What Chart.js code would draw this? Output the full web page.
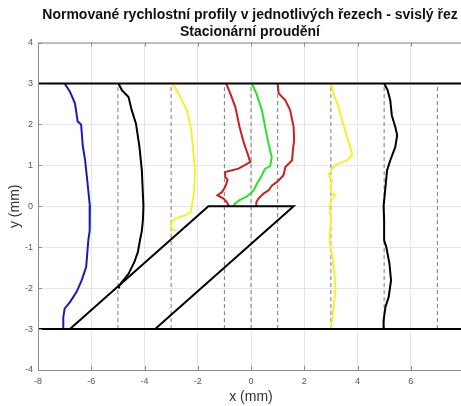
<!DOCTYPE html>
<html>
<head>
<meta charset="utf-8">
<script src="https://cdn.jsdelivr.net/npm/chart.js@4"></script>
<style>
  html, body { margin: 0; padding: 0; background: #fff; overflow: hidden; }
  #wrap { width: 500px; height: 406px; }
</style>
</head>
<body>
<div id="wrap"><canvas id="myChart" width="500" height="406"></canvas></div>
<script>
// axes
const xTicks = [-8, -6, -4, -2, 0, 2, 4, 6, 8];
const yTicks = [-4, -3, -2, -1, 0, 1, 2, 3, 4];

// channel walls and the step
const wallY = [3, -3];
const wallX = [-8, 8];
const stepX = [-6.8, -1.6, 1.6, -3.6];
const stepY = [-3, 0, 0, -3];

// measuring sections (dashed)
const sections = [-5, -3, -1, 0, 1, 3, 5, 7];

// normalised velocity profiles
const blueX = [-7.0, -6.8, -6.61, -6.51, -6.38, -6.32, -6.23, -6.15, -6.05, -6.05, -6.07, -6.11, -6.19, -6.36, -6.55, -6.8, -7.0, -7.05, -7.05];
const blueY = [3, 2.8, 2.51, 2.07, 2.0, 1.49, 1.12, 0.63, 0, -0.34, -0.6, -0.83, -1.48, -1.81, -2.09, -2.34, -2.5, -2.71, -3];

const blackAX = [-4.98, -4.85, -4.6, -4.48, -4.32, -4.19, -4.1, -4.04, -4.06, -4.1, -4.17, -4.25, -4.38, -4.6, -4.85, -4.98, -4.93];
const blackAY = [3, 2.84, 2.67, 2.35, 2.02, 1.45, 0.88, 0, -0.34, -0.6, -0.83, -1.12, -1.36, -1.65, -1.85, -1.97, -2.0];

const yellowAX = [-2.94, -2.73, -2.41, -2.26, -2.18, -2.1, -2.14, -2.26, -2.47, -2.85, -3.01, -2.97, -2.79];
const yellowAY = [3, 2.76, 2.35, 1.94, 1.45, 0.88, 0.31, -0.14, -0.22, -0.3, -0.42, -0.55, -0.6];

const redAX = [-0.93, -0.78, -0.59, -0.43, -0.26, -0.13, -0.03, -0.47, -0.97, -0.97, -0.88, -0.97, -1.09, -1.26, -1.03, -0.9, -0.84];
const redAY = [3, 2.76, 2.43, 1.94, 1.53, 1.29, 1.08, 0.92, 0.84, 0.72, 0.65, 0.47, 0.35, 0.27, 0.19, 0.1, 0];

const greenX = [0.03, 0.2, 0.41, 0.53, 0.66, 0.78, 0.72, 0.53, 0.41, 0.22, 0.1, -0.15, -0.43, -0.63, -0.59];
const greenY = [3, 2.76, 2.35, 1.94, 1.53, 1.2, 0.98, 0.92, 0.76, 0.55, 0.39, 0.24, 0.15, 0.05, 0];

const redBX = [1.0, 1.04, 1.29, 1.47, 1.6, 1.62, 1.58, 1.54, 1.29, 1.22, 0.97, 0.79, 0.66, 0.47, 0.28, 0.2, 0.2];
const redBY = [3, 2.76, 2.59, 2.35, 1.94, 1.61, 1.41, 1.12, 0.96, 0.76, 0.59, 0.51, 0.39, 0.31, 0.19, 0.1, 0];

const yellowBX = [3.0, 3.1, 3.29, 3.42, 3.61, 3.76, 3.8, 3.61, 3.23, 3.04, 2.91, 3.04, 2.98, 3.04, 3.17, 3.04, 2.95, 3.0, 2.95, 3.04, 3.14, 3.17, 3.1, 3.0];
const yellowBY = [3, 2.76, 2.43, 2.1, 1.69, 1.37, 1.25, 1.12, 1.03, 0.92, 0.76, 0.64, 0.47, 0.31, 0.27, 0.19, 0, -0.34, -0.83, -1.16, -1.65, -2.05, -2.46, -3];

const blackBX = [5.0, 5.13, 5.23, 5.29, 5.42, 5.49, 5.42, 5.23, 5.11, 5.05, 4.98, 5.0, 5.0, 5.08, 5.2, 5.26, 5.17, 5.05, 4.98, 4.98];
const blackBY = [3, 2.84, 2.59, 2.22, 1.94, 1.74, 1.45, 1.12, 0.88, 0.47, 0, -0.34, -0.83, -0.99, -1.4, -1.81, -2.22, -2.46, -2.79, -3];

function pts(xs, ys) {
    return xs.map((x, i) => ({ x: x, y: ys[i] }));
}

function line(xs, ys, color, width, order, dash) {
    return {
        data: pts(xs, ys),
        showLine: true,
        borderColor: color,
        borderWidth: width,
        borderDash: dash || [],
        pointRadius: 0,
        fill: false,
        tension: 0,
        order: order
    };
}

const datasets = [];
sections.forEach(s => {
    datasets.push(line([s, s], [wallY[1], wallY[0]], '#7a7a7a', 1, 30, [4, 3]));
});
datasets.push(line(blueX, blueY, '#1a1ab8', 2, 10));
datasets.push(line(blackAX, blackAY, '#000000', 2, 10));
datasets.push(line(yellowAX, yellowAY, '#f2f230', 2, 10));
datasets.push(line(redAX, redAY, '#cc1f1f', 2, 10));
datasets.push(line(greenX, greenY, '#2ee02e', 2, 10));
datasets.push(line(redBX, redBY, '#cc1f1f', 2, 10));
datasets.push(line(yellowBX, yellowBY, '#f2f230', 2, 10));
datasets.push(line(blackBX, blackBY, '#000000', 2, 10));
wallY.forEach(w => {
    datasets.push(line(wallX, [w, w], '#000000', 2, 1));
});
datasets.push(line(stepX, stepY, '#000000', 2, 1));

// matlab-like box with inward tick marks
const axesBox = {
    id: 'axesBox',
    afterDatasetsDraw(chart) {
        const { ctx, chartArea: a, scales } = chart;
        ctx.save();
        ctx.strokeStyle = '#8c8c8c';
        ctx.lineWidth = 1;
        ctx.beginPath();
        ctx.moveTo(a.left + 0.5, a.top + 0.5);
        ctx.lineTo(a.left + 0.5, a.bottom + 0.5);
        ctx.moveTo(a.left, a.top + 0.5);
        ctx.lineTo(a.right, a.top + 0.5);
        ctx.moveTo(a.left, a.bottom + 0.5);
        ctx.lineTo(a.right, a.bottom + 0.5);
        xTicks.forEach(t => {
            const px = Math.round(scales.x.getPixelForValue(t)) + 0.5;
            ctx.moveTo(px, a.bottom);
            ctx.lineTo(px, a.bottom - 4);
            ctx.moveTo(px, a.top);
            ctx.lineTo(px, a.top + 4);
        });
        yTicks.forEach(t => {
            const py = Math.round(scales.y.getPixelForValue(t)) + 0.5;
            ctx.moveTo(a.left, py);
            ctx.lineTo(a.left + 4, py);
        });
        ctx.stroke();
        ctx.restore();
    }
};

const font = 'Liberation Sans, Arial, sans-serif';

const ctx = document.getElementById('myChart').getContext('2d');
window.myChart = new Chart(ctx, {
    type: 'scatter',
    data: { datasets: datasets },
    plugins: [axesBox],
    options: {
        responsive: false,
        animation: false,
        layout: { padding: 0 },
        scales: {
            x: {
                type: 'linear',
                min: -8,
                max: 8,
                afterBuildTicks: scale => { scale.ticks = xTicks.map(v => ({ value: v })); },
                afterFit: scale => { scale.height = 36; },
                grid: { color: '#e6e6e6', drawTicks: false },
                border: { display: false },
                ticks: {
                    color: '#555555',
                    padding: 6,
                    maxRotation: 0,
                    font: { family: font, size: 9 }
                },
                title: {
                    display: true,
                    text: 'x (mm)',
                    color: '#333333',
                    padding: { top: 0, bottom: 0 },
                    font: { family: font, size: 14 }
                }
            },
            y: {
                type: 'linear',
                min: -4,
                max: 4,
                afterBuildTicks: scale => { scale.ticks = yTicks.map(v => ({ value: v })); },
                afterFit: scale => { scale.width = 38; },
                grid: { color: '#e6e6e6', drawTicks: false },
                border: { display: false },
                ticks: {
                    color: '#555555',
                    padding: 5,
                    font: { family: font, size: 9 }
                },
                title: {
                    display: true,
                    text: 'y (mm)',
                    color: '#333333',
                    padding: { top: 7, bottom: 0 },
                    font: { family: font, size: 14 }
                }
            },
            // empty right-hand strip so the plot ends at x = 8
            yRight: {
                type: 'linear',
                position: 'right',
                min: -4,
                max: 4,
                afterFit: scale => { scale.width = 36; },
                grid: { display: false },
                border: { display: false },
                ticks: { display: false }
            }
        },
        plugins: {
            legend: { display: false },
            tooltip: { enabled: false },
            title: {
                display: true,
                text: ['Normované rychlostní profily v jednotlivých řezech - svislý řez', 'Stacionární proudění'],
                color: '#111111',
                padding: { top: 7, bottom: 2 },
                font: { family: font, size: 14, weight: 'bold', lineHeight: 1.2 }
            }
        }
    }
});
</script>
</body>
</html>
